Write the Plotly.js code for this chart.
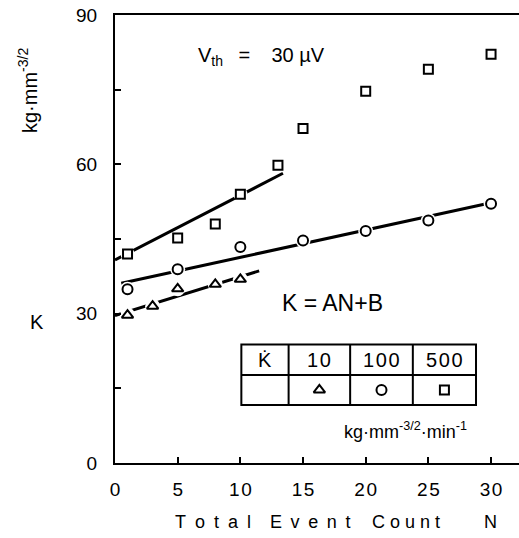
<!DOCTYPE html>
<html><head><meta charset="utf-8">
<script src="https://cdn.plot.ly/plotly-3.0.1.min.js"></script>
<style>html,body{margin:0;padding:0;background:#fff}</style>
</head><body><div id="chart" style="width:519px;height:538px"></div>
<script>
// Data
const triX = [1, 3, 5, 8, 10];
const triY = [29.7, 31.5, 35.0, 35.9, 36.9];
const cirX = [1, 5, 10, 15, 20, 25, 30];
const cirY = [34.9, 38.9, 43.4, 44.7, 46.6, 48.7, 52.1];
const sqX = [1, 5, 8, 10, 13, 15, 20, 25, 30];
const sqY = [42.0, 45.2, 48.0, 54.0, 59.8, 67.2, 74.7, 79.1, 82.1];
// Fitted lines K = AN + B (end points)
const triFitX = [0, 11.5], triFitY = [29.6, 38.6];
const cirFitX = [0.5, 30], cirFitY = [36.1, 52.3];
const sqFitX = [0, 13.4], sqFitY = [40.8, 58.2];
// Tick labels
const xTicks = [0, 5, 10, 15, 20, 25, 30];
const yTickVals = [0, 15, 30, 45, 60, 75, 90];
const yTickText = ['0', '', '30', '', '60', '', '90'];
// Legend table
const rateLabels = ['10', '100', '500'];
const rateSymbols = ['triangle-up', 'circle', 'square'];

const F = 'Liberation Sans, Arial, sans-serif';
const fitLine = {mode: 'lines', line: {color: '#000', width: 3}, hoverinfo: 'skip', showlegend: false};
function halo(x, y, s) {
  return {x: x, y: y, mode: 'markers', marker: {symbol: 'circle', size: s, color: '#fff'}, showlegend: false, hoverinfo: 'skip'};
}
function pts(x, y, sym, s) {
  return {x: x, y: y, mode: 'markers', showlegend: false,
    marker: {symbol: sym, size: s, color: '#fff', line: {color: '#000', width: 2}}};
}
const traces = [
  Object.assign({x: sqFitX, y: sqFitY}, fitLine),
  Object.assign({x: cirFitX, y: cirFitY}, fitLine),
  Object.assign({x: triFitX, y: triFitY}, fitLine),
  halo(triX, triY, 15), halo(cirX, cirY, 15), halo(sqX, sqY, 14),
  pts(triX, triY, 'triangle-up', 10),
  pts(cirX, cirY, 'circle', 10),
  pts(sqX, sqY, 'square', 9)
];

// table layout in data coordinates
const colEdges = [10.08, 13.85, 18.76, 23.76, 28.8];
const rowEdges = [23.8, 17.7, 11.65];
const shapes = [];
shapes.push({type: 'rect', xref: 'x', yref: 'y', x0: colEdges[0], x1: colEdges[4], y0: rowEdges[2], y1: rowEdges[0], line: {color: '#000', width: 2}});
shapes.push({type: 'line', xref: 'x', yref: 'y', x0: colEdges[0], x1: colEdges[4], y0: rowEdges[1], y1: rowEdges[1], line: {color: '#000', width: 2}});
for (let i = 1; i < 4; i++) {
  shapes.push({type: 'line', xref: 'x', yref: 'y', x0: colEdges[i], x1: colEdges[i], y0: rowEdges[2], y1: rowEdges[0], line: {color: '#000', width: 2}});
}
const annotations = [];
const rowTop = (rowEdges[0] + rowEdges[1]) / 2, rowBot = (rowEdges[1] + rowEdges[2]) / 2;
annotations.push({x: (colEdges[0] + colEdges[1]) / 2, y: rowTop, xref: 'x', yref: 'y', text: 'K\u0307', showarrow: false, font: {family: F, size: 20, color: '#000'}});
for (let i = 0; i < 3; i++) {
  annotations.push({x: (colEdges[i + 1] + colEdges[i + 2]) / 2, y: rowTop, xref: 'x', yref: 'y', text: rateLabels[i].split('').join('\u200a'), showarrow: false, font: {family: F, size: 20, color: '#000'}});
  traces.push({x: [(colEdges[i + 1] + colEdges[i + 2]) / 2], y: [rowBot], mode: 'markers', showlegend: false, hoverinfo: 'skip', cliponaxis: false,
    marker: {symbol: rateSymbols[i], size: i === 2 ? 9 : 10, color: '#fff', line: {color: '#000', width: 2}}});
}
function pa(x, y, text, size, extra) {
  return Object.assign({xref: 'paper', yref: 'paper', xanchor: 'center', yanchor: 'middle',
    x: (x - 114.5) / 404.5, y: (463 - y) / 448.5, text: text, showarrow: false,
    font: {family: F, size: size, color: '#000'}}, extra || {});
}
annotations.push(pa(405, 430, 'kg\u00b7mm<sup>-3/2</sup>\u00b7min<sup>-1</sup>', 18));
annotations.push(pa(261, 56, 'V<sub>th</sub>\u2002 = \u2002 30 \u00b5V', 20));
annotations.push(pa(332, 303, 'K = AN+B', 23));
annotations.push(pa(36, 322, 'K', 20));
annotations.push(pa(27, 90, 'kg\u00b7mm<sup>-3/2</sup>', 20, {textangle: -90}));
annotations.push(pa(213, 522, 'T\u2002o\u2002t\u2002a\u2002l', 18));
annotations.push(pa(310, 522, 'E\u2009 v\u2009 e\u2009 n\u2009 t', 18));
annotations.push(pa(406, 522, 'C o u n t', 18));
annotations.push(pa(490, 522, 'N', 18));

const layout = {
  width: 519, height: 538,
  margin: {l: 114.5, r: 0, t: 14.5, b: 75},
  paper_bgcolor: '#fff', plot_bgcolor: '#fff',
  font: {family: F, color: '#000'},
  showlegend: false,
  xaxis: {range: [0, 32.23], tickvals: xTicks, ticktext: xTicks.map(v => String(v).split('').join('\u200a')), ticks: 'inside', ticklen: 6, tickwidth: 2, tickcolor: '#000',
    showline: true, linewidth: 2, linecolor: '#000', mirror: true, showgrid: false, zeroline: false,
    tickfont: {family: F, size: 19, color: '#000'}, ticklabelstandoff: 8},
  yaxis: {range: [0, 90], tickvals: yTickVals, ticktext: yTickText, ticks: 'inside', ticklen: 6, tickwidth: 2, tickcolor: '#000',
    showline: true, linewidth: 2, linecolor: '#000', showgrid: false, zeroline: false,
    tickfont: {family: F, size: 19, color: '#000'}, ticklabelstandoff: 12},
  shapes: shapes, annotations: annotations
};
Plotly.newPlot('chart', traces, layout, {staticPlot: true, displayModeBar: false});
</script></body></html>
